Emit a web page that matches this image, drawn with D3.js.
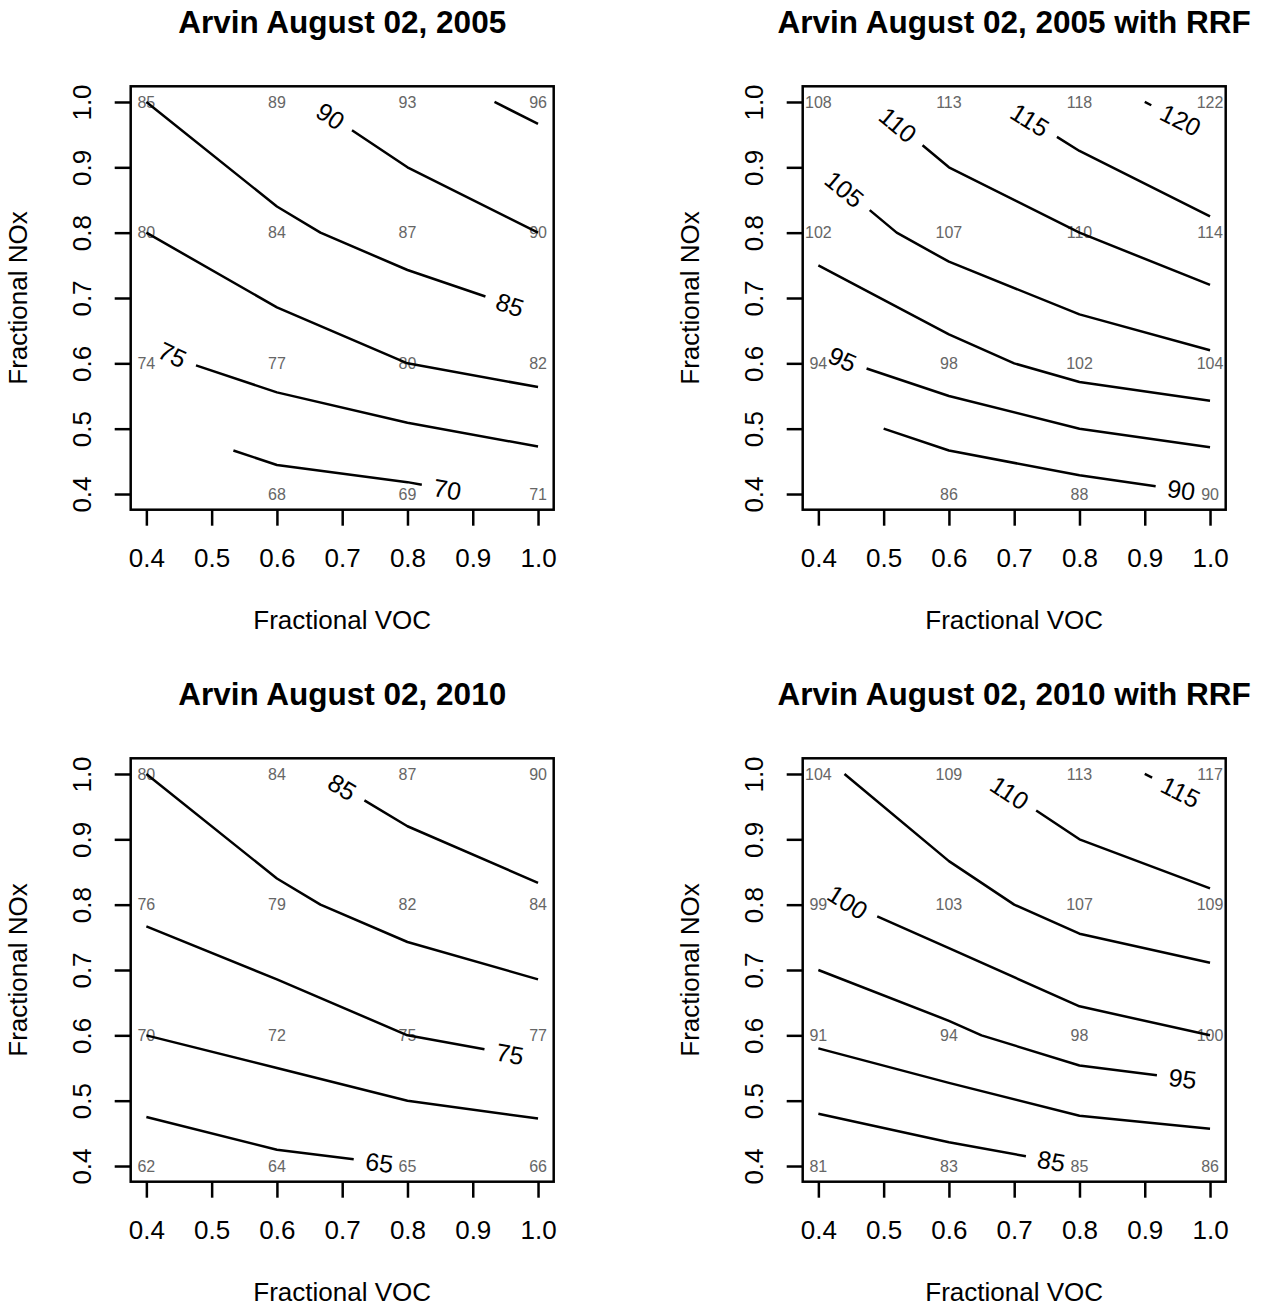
<!DOCTYPE html>
<html>
<head>
<meta charset="utf-8">
<script src="https://cdn.jsdelivr.net/npm/d3@7"></script>
<style>
  body { margin: 0; background: #fff; }
  svg { display: block; font-family: "Liberation Sans", Arial, Helvetica, sans-serif; }
</style>
</head>
<body>
<svg id="chart" width="1270" height="1307"></svg>
<script>
// ---- Data -------------------------------------------------------------
// Emission-control grid: fractional VOC (columns) and fractional NOx (rows, top to bottom)
const voc = [0.4, 0.6, 0.8, 1.0];
const nox = [1.0, 0.8, 0.6, 0.4];

const xTicks = [0.4, 0.5, 0.6, 0.7, 0.8, 0.9, 1.0];
const yTicks = [0.4, 0.5, 0.6, 0.7, 0.8, 0.9, 1.0];

// Peak ozone (ppb) at each grid node; null marks a node with no model run
const ozone2005 = [
  [85, 89, 93, 96],
  [80, 84, 87, 90],
  [74, 77, 80, 82],
  [null, 68, 69, 71]
];
const ozone2005RRF = [
  [108, 113, 118, 122],
  [102, 107, 110, 114],
  [94, 98, 102, 104],
  [null, 86, 88, 90]
];
const ozone2010 = [
  [80, 84, 87, 90],
  [76, 79, 82, 84],
  [70, 72, 75, 77],
  [62, 64, 65, 66]
];
const ozone2010RRF = [
  [104, 109, 113, 117],
  [99, 103, 107, 109],
  [91, 94, 98, 100],
  [81, 83, 85, 86]
];

// Contour levels drawn in each panel
const levels2005 = [70, 75, 80, 85, 90, 95];
const levels2005RRF = [90, 95, 100, 105, 110, 115, 120];
const levels2010 = [65, 70, 75, 80, 85];
const levels2010RRF = [85, 90, 95, 100, 105, 110, 115];

const titles = [
  "Arvin August 02, 2005",
  "Arvin August 02, 2005 with RRF",
  "Arvin August 02, 2010",
  "Arvin August 02, 2010 with RRF"
];

// ---- Layout -------------------------------------------------------------
const FONT_BASE = 26;
const panelStep = 672;           // distance between panel origins
const box = { left: 130.7, right: 553.7, top: 86.3, bottom: 509.7 };
const tickLen = 16;
const minPiece = 6;              // line remnants shorter than this next to a label are dropped

// Where each labelled contour carries its label (level, VOC position of label centre)
const panels = [
  { z: ozone2005, levels: levels2005, col: 0, row: 0,
    labelSpots: [[90, 0.682], [85, 0.957], [75, 0.44], [70, 0.861]] },
  { z: ozone2005RRF, levels: levels2005RRF, col: 1, row: 0,
    labelSpots: [[120, 0.955], [115, 0.724], [110, 0.522], [105, 0.44], [95, 0.437], [90, 0.956]] },
  { z: ozone2010, levels: levels2010, col: 0, row: 1,
    labelSpots: [[85, 0.70], [75, 0.957], [65, 0.757]] },
  { z: ozone2010RRF, levels: levels2010RRF, col: 1, row: 1,
    labelSpots: [[115, 0.955], [110, 0.693], [100, 0.445], [95, 0.958], [85, 0.757]] }
];

// ---- Contouring (linear interpolation on the grid cells) ----------------
function isoSegments(z, level) {
  const segs = [];
  for (let r = 0; r < nox.length - 1; r++) {
    for (let c = 0; c < voc.length - 1; c++) {
      const corners = [
        { x: voc[c],     y: nox[r + 1], v: z[r + 1][c] },
        { x: voc[c + 1], y: nox[r + 1], v: z[r + 1][c + 1] },
        { x: voc[c + 1], y: nox[r],     v: z[r][c + 1] },
        { x: voc[c],     y: nox[r],     v: z[r][c] }
      ];
      // a cell with one missing node is contoured over the remaining triangle
      const poly = corners.filter(p => p.v != null);
      if (poly.length < 3) continue;
      const cross = [];
      for (let k = 0; k < poly.length; k++) {
        const a = poly[k], b = poly[(k + 1) % poly.length];
        if ((a.v >= level) !== (b.v >= level)) {
          const t = (level - a.v) / (b.v - a.v);
          cross.push({ x: a.x + t * (b.x - a.x), y: a.y + t * (b.y - a.y) });
        }
      }
      if (cross.length === 2) {
        segs.push([cross[0], cross[1]]);
      } else if (cross.length === 4) {
        const mid = d3.mean(poly, p => p.v);
        if ((mid >= level) === (poly[0].v >= level)) {
          segs.push([cross[0], cross[1]], [cross[2], cross[3]]);
        } else {
          segs.push([cross[3], cross[0]], [cross[1], cross[2]]);
        }
      }
    }
  }
  return segs.filter(s => Math.hypot(s[0].x - s[1].x, s[0].y - s[1].y) > 1e-9);
}

function chainSegments(segs) {
  const same = (p, q) => Math.abs(p.x - q.x) < 1e-9 && Math.abs(p.y - q.y) < 1e-9;
  const rest = segs.slice();
  const lines = [];
  while (rest.length) {
    const line = rest.pop().slice();
    let grown = true;
    while (grown) {
      grown = false;
      for (let i = 0; i < rest.length; i++) {
        const [a, b] = rest[i];
        const head = line[0], tail = line[line.length - 1];
        if (same(tail, a)) line.push(b);
        else if (same(tail, b)) line.push(a);
        else if (same(head, b)) line.unshift(a);
        else if (same(head, a)) line.unshift(b);
        else continue;
        rest.splice(i, 1);
        grown = true;
        break;
      }
    }
    if (line[0].x > line[line.length - 1].x) line.reverse();
    lines.push(line);
  }
  return lines;
}

// ---- Path helpers (pixel space) ------------------------------------------
function cumulative(pts) {
  const s = [0];
  for (let i = 1; i < pts.length; i++) {
    s.push(s[i - 1] + Math.hypot(pts[i][0] - pts[i - 1][0], pts[i][1] - pts[i - 1][1]));
  }
  return s;
}
function pointAt(pts, S, s) {
  for (let i = 0; i < pts.length - 1; i++) {
    if (s <= S[i + 1] || i === pts.length - 2) {
      const len = S[i + 1] - S[i];
      const t = len > 0 ? Math.max(0, Math.min(1, (s - S[i]) / len)) : 0;
      return [pts[i][0] + t * (pts[i + 1][0] - pts[i][0]), pts[i][1] + t * (pts[i + 1][1] - pts[i][1])];
    }
  }
  return pts[pts.length - 1];
}
function subPath(pts, S, a, b) {
  const out = [pointAt(pts, S, a)];
  for (let i = 0; i < pts.length; i++) if (S[i] > a && S[i] < b) out.push(pts[i]);
  out.push(pointAt(pts, S, b));
  return out;
}
function arcAtX(pts, S, px) {
  for (let i = 0; i < pts.length - 1; i++) {
    const x0 = pts[i][0], x1 = pts[i + 1][0];
    if ((px - x0) * (px - x1) <= 0 && x0 !== x1) {
      const t = (px - x0) / (x1 - x0);
      return S[i] + t * (S[i + 1] - S[i]);
    }
  }
  return null;
}

// ---- Drawing ----------------------------------------------------------------
const svg = d3.select("#chart");
const line = d3.line();

panels.forEach((p, idx) => {
  const ox = p.col * panelStep, oy = p.row * panelStep;
  const left = box.left + ox, right = box.right + ox;
  const top = box.top + oy, bottom = box.bottom + oy;

  const x = d3.scaleLinear().domain([0.376, 1.024]).range([left, right]);
  const y = d3.scaleLinear().domain([0.376, 1.024]).range([bottom, top]);

  const g = svg.append("g");

  // Title
  g.append("text")
    .attr("x", (left + right) / 2)
    .attr("y", 33 + oy)
    .attr("text-anchor", "middle")
    .attr("font-weight", "bold")
    .attr("font-size", 31.5)
    .text(titles[idx]);

  // Axes
  const xAxis = g.append("g")
    .attr("transform", `translate(0,${bottom})`)
    .call(d3.axisBottom(x).tickValues(xTicks).tickFormat(d3.format(".1f"))
      .tickSize(tickLen).tickPadding(39 - tickLen));
  const yAxis = g.append("g")
    .attr("transform", `translate(${left},0)`)
    .call(d3.axisLeft(y).tickValues(yTicks).tickFormat(d3.format(".1f"))
      .tickSize(tickLen));
  [xAxis, yAxis].forEach(a => {
    a.select(".domain").remove();
    a.selectAll(".tick line").attr("stroke", "#000").attr("stroke-width", 2.5);
    a.selectAll(".tick text")
      .attr("fill", "#000")
      .attr("font-size", FONT_BASE)
      .attr("font-family", "Liberation Sans, Arial, Helvetica, sans-serif");
  });
  yAxis.selectAll(".tick text")
    .attr("x", null).attr("dy", null)
    .attr("text-anchor", "middle")
    .attr("transform", "translate(-39.7,0) rotate(-90)");

  // Axis titles
  g.append("text")
    .attr("x", (left + right) / 2)
    .attr("y", bottom + 119)
    .attr("text-anchor", "middle")
    .attr("font-size", FONT_BASE)
    .text("Fractional VOC");
  g.append("text")
    .attr("transform", `translate(${left - 103.5},${(top + bottom) / 2}) rotate(-90)`)
    .attr("text-anchor", "middle")
    .attr("font-size", FONT_BASE)
    .text("Fractional NOx");

  // Node values
  nox.forEach((ny, r) => voc.forEach((vx, c) => {
    const v = p.z[r][c];
    if (v == null) return;
    g.append("text")
      .attr("x", x(vx))
      .attr("y", y(ny))
      .attr("dy", "0.36em")
      .attr("text-anchor", "middle")
      .attr("font-size", 16)
      .attr("fill", "#666")
      .text(v);
  }));

  // Contour lines with in-line labels
  const spotMap = new Map(p.labelSpots.map(d => [d[0], d[1]]));
  p.levels.forEach(level => {
    chainSegments(isoSegments(p.z, level)).forEach(ln => {
      const pts = ln.map(d => [x(d.x), y(d.y)]);
      const S = cumulative(pts);
      const L = S[S.length - 1];
      const drawPiece = seg => g.append("path")
        .attr("d", line(seg))
        .attr("fill", "none")
        .attr("stroke", "#000")
        .attr("stroke-width", 2.5)
        .attr("stroke-linejoin", "round");

      const spot = spotMap.get(level);
      const s0 = spot != null ? arcAtX(pts, S, x(spot)) : null;
      if (s0 == null) { drawPiece(pts); return; }

      const label = g.append("text")
        .attr("text-anchor", "middle")
        .attr("dy", "0.36em")
        .attr("font-size", 25)
        .attr("fill", "#000")
        .text(level);
      const w = label.node().getComputedTextLength();
      const gap = w + 24;
      let a = s0 - gap / 2, b = s0 + gap / 2;
      const pa = pointAt(pts, S, Math.max(0, a));
      const pb = pointAt(pts, S, Math.min(L, b));
      let ang = Math.atan2(pb[1] - pa[1], pb[0] - pa[0]) * 180 / Math.PI;
      if (ang > 90) ang -= 180;
      if (ang < -90) ang += 180;
      const c = pointAt(pts, S, s0);
      label.attr("transform", `translate(${c[0]},${c[1]}) rotate(${ang})`);

      if (a < minPiece) a = 0;
      if (b > L - minPiece) b = L;
      if (a > 0) drawPiece(subPath(pts, S, 0, a));
      if (b < L) drawPiece(subPath(pts, S, b, L));
    });
  });

  // Plot frame
  g.append("rect")
    .attr("x", left).attr("y", top)
    .attr("width", right - left).attr("height", bottom - top)
    .attr("fill", "none")
    .attr("stroke", "#000")
    .attr("stroke-width", 2.5);
});
</script>
</body>
</html>
